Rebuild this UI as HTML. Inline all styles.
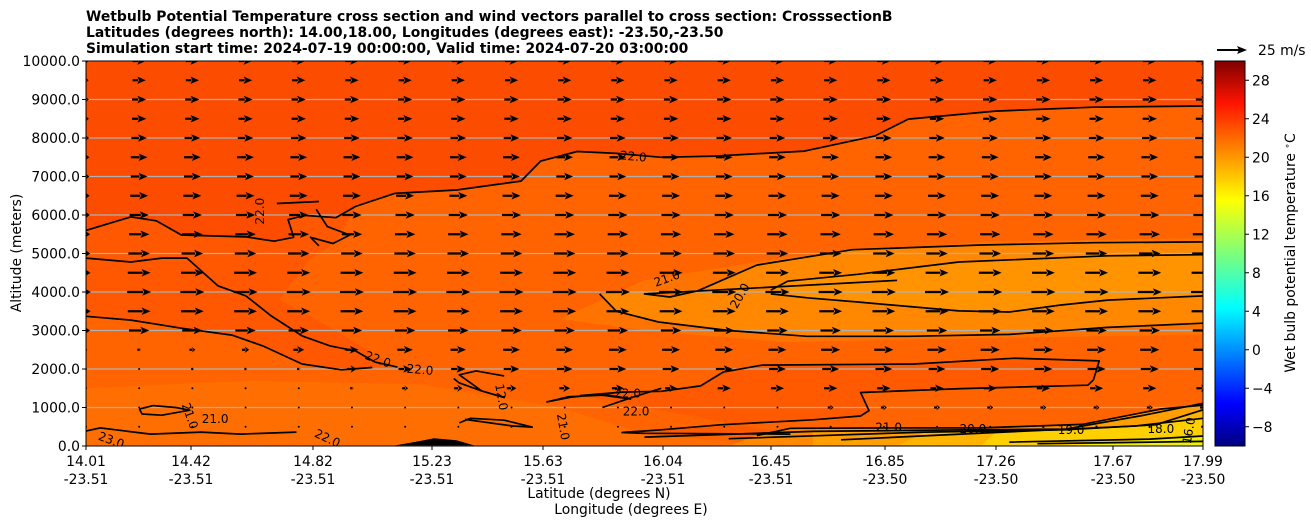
<!DOCTYPE html>
<html><head><meta charset="utf-8">
<style>
body{margin:0;background:#fff;}
svg{display:block;font-family:"DejaVu Sans","Liberation Sans",sans-serif;}
</style></head>
<body>
<svg id="chart" width="1311" height="526" viewBox="0 0 1311 526">
<defs>
<linearGradient id="jet" x1="0" y1="1" x2="0" y2="0">
<stop offset="0" stop-color="#00007f"/><stop offset="0.11" stop-color="#0000ff"/>
<stop offset="0.36" stop-color="#00ffff"/><stop offset="0.5" stop-color="#7dff7a"/>
<stop offset="0.64" stop-color="#ffff00"/><stop offset="0.89" stop-color="#ff1400"/>
<stop offset="1" stop-color="#7f0000"/>
</linearGradient>
<clipPath id="plotclip"><rect x="86" y="61" width="1117" height="385"/></clipPath>
</defs>
<g font-weight="bold" font-size="13.9">
<text x="86" y="21">Wetbulb Potential Temperature cross section and wind vectors parallel to cross section: CrosssectionB</text>
<text x="86" y="37">Latitudes (degrees north): 14.00,18.00, Longitudes (degrees east): -23.50,-23.50</text>
<text x="86" y="53">Simulation start time: 2024-07-19 00:00:00, Valid time: 2024-07-20 03:00:00</text>
</g>
<g id="plot" clip-path="url(#plotclip)"></g>
<rect x="86" y="61" width="1117" height="385" fill="none" stroke="#000" stroke-width="1"/>
<g id="axes"></g>
<rect x="1215" y="61" width="30" height="385" fill="url(#jet)" stroke="#000" stroke-width="1"/>
<g id="cbticks"></g>
<text transform="translate(1295,253) rotate(-90)" text-anchor="middle" font-size="13.9">Wet bulb potential temperature <tspan baseline-shift="super" font-size="9">∘</tspan>C</text>
<g>
<line x1="1217" y1="50" x2="1239" y2="50" stroke="#000" stroke-width="2"/>
<polygon points="1247,50 1237,46 1239,50 1237,54" fill="#000"/>
<text x="1258" y="55" font-size="13.9">25 m/s</text>
</g>
<text x="599" y="498" text-anchor="middle" font-size="13.9">Latitude (degrees N)</text>
<text x="631" y="514" text-anchor="middle" font-size="13.9">Longitude (degrees E)</text>
<text transform="translate(21,253) rotate(-90)" text-anchor="middle" font-size="13.9">Altitude (meters)</text>
</svg>
<script>
const latTicks=[14.01,14.42,14.82,15.23,15.63,16.04,16.45,16.85,17.26,17.67,17.99];
const lonTicks=["-23.51","-23.51","-23.51","-23.51","-23.51","-23.51","-23.51","-23.50","-23.50","-23.50","-23.50"];
const tickPx=[86,191,313,432,543,663,771,885,996,1113,1203];
const altTicks=[0,1000,2000,3000,4000,5000,6000,7000,8000,9000,10000];
const cbTicks=[-8,-4,0,4,8,12,16,20,24,28];
const windLevels=[500,1000,1500,2000,2500,3000,3500,4000,4500,5000,5500,6000,6500,7000,7500,8000,8500,9000,9500,10000];
const upperSpeed=[17,19,20,19,18,17,16,15,14,14,13,12,12,11,11];
const lowSpeed=[
[0,0,0,0,0,0,0,0,0,0,0,0,0,0,1,1,1,1,2,2,2,3],
[0,0,0,0,0,0,0,0,0,0,0,1,1,1,5,5,5,5,5,5,5,5],
[0,0,0,1,1,3,5,7,8,9,10,10,11,11,11,11,11,11,11,11,11,11],
[0,0,2,2,3,8,11,12,13,13,14,14,14,14,14,14,14,15,15,15,15,15],
[0,3,5,6,9,11,13,13,14,14,15,15,15,15,16,16,16,16,16,16,16,16]
];
const nCols=22;
const cTop=[[14.01,5600],[14.17,5950],[14.26,5850],[14.35,5480],[14.58,5430],[14.68,5320],[14.75,5420],[14.73,5880],[14.79,5990],[14.9,5930],[14.97,6220],[15.11,6560],[15.33,6650],[15.56,6880],[15.63,7400],[15.76,7650],[15.9,7600],[16.06,7500],[16.25,7530],[16.57,7660],[16.82,8050],[16.94,8490],[17.25,8700],[17.6,8800],[17.99,8830]];
const c22a=[[14.01,4880],[14.17,4780],[14.28,4880],[14.37,4880],[14.48,4160],[14.58,3900],[14.67,3380],[14.78,2860],[14.88,2600],[14.97,2470],[15.04,2180],[15.12,2050]];
const c22b=[[14.01,3370],[14.17,3270],[14.35,3060],[14.53,2880],[14.64,2600],[14.78,2130],[14.92,1980],[15.03,2040]];
const c22c=[[14.01,390],[14.06,470],[14.24,310],[14.42,360],[14.56,310],[14.76,360]];
const c21loop=[[14.2,960],[14.25,1050],[14.33,1000],[14.38,930],[14.28,800],[14.21,830],[14.2,960]];
const c21right=[[16.9,4300],[16.0,3950],[16.09,3870],[16.19,4030],[16.4,4700],[16.74,5100],[17.2,5220],[17.6,5280],[17.99,5300]];
const c21rb=[[15.84,3950],[15.9,3500],[16.05,3220],[16.3,3000],[16.58,2850],[16.94,2850],[17.3,2900],[17.65,3080],[17.99,3190]];
const c20=[[16.45,4050],[16.51,4280],[16.76,4460],[17.12,4780],[17.65,4940],[17.99,4970],[17.99,4970]];
const c20b=[[16.45,3950],[16.58,3850],[16.76,3740],[17.12,3510],[17.3,3480],[17.48,3660],[17.65,3790],[17.99,3900]];
const c22r=[[15.77,1310],[15.92,1400],[16.06,1420],[16.2,1560],[16.28,1920],[16.42,2100],[16.96,2130],[17.32,2280],[17.62,2210],[17.6,1720],[17.58,1580],[17.13,1490],[16.77,1390],[16.8,920],[16.77,780],[16.6,680],[16.27,550],[16.06,420],[15.92,350],[16.0,330],[16.52,310]];
const c21b=[[16.4,270],[16.52,460],[16.9,470],[17.2,470],[17.56,560],[17.84,960],[17.99,1060]];
const c20l=[[16.0,230],[16.6,380],[17.15,420],[17.5,440],[17.78,800],[17.99,1110]];
const c19=[[16.3,190],[17.0,360],[17.5,420],[17.82,550],[17.99,940]];
const c18=[[16.7,160],[17.25,350],[17.75,520],[17.99,720]];
const c17=[[17.3,100],[17.8,180],[17.99,260]];
const c16=[[17.4,60],[17.99,120]];
const cMid1=[[15.32,1750],[15.34,1640],[15.42,1430],[15.5,1260],[15.42,1430],[15.34,1850],[15.4,1950],[15.5,1820]];
const cMid2=[[15.34,600],[15.38,720],[15.5,670],[15.6,490],[15.53,520],[15.36,690]];
const cMid3=[[15.65,1140],[15.74,1270],[15.85,1350],[15.95,1220],[15.85,1320],[15.73,1280],[15.65,1140]];
const cMid4=[[15.85,1000],[15.95,1250],[16.06,1500]];
const cHi=[[14.69,6300],[14.84,6350]];
const cLobe=[[14.83,6150],[14.87,5700],[14.95,5480],[14.89,5260],[14.81,5420],[14.84,5200]];

const X=lat=>86+(lat-14.01)/(17.99-14.01)*1117;
const Y=alt=>446-alt*0.0385;
const CB=v=>446-(v+10)*385/40;
const colX=i=>86+i*1117/21;
const NS="http://www.w3.org/2000/svg";
const plot=document.getElementById('plot');
function mk(tag,attrs,parent){const e=document.createElementNS(NS,tag);for(const k in attrs)e.setAttribute(k,attrs[k]);parent.appendChild(e);return e;}
function pts(a){return a.map(p=>X(p[0]).toFixed(1)+','+Y(p[1]).toFixed(1)).join(' ');}
function poly(a,fill,name){const e=mk('polygon',{points:pts(a),fill:fill},plot);

}
let bg=mk('rect',{x:86,y:61,width:1117,height:385,fill:'#ff6400'},plot);


poly([[14.01,10000],...cTop,[17.99,10000]],'#fb4c00','fill-upper');
poly([[14.01,5600],...cTop.slice(1,11),[14.9,5300],[14.8,4800],[14.7,3800],[14.9,3000],[15.1,2100],...c22b.slice().reverse()],'#ff5800','fill-upper-left');
poly([[14.01,0],[14.01,1500],[14.6,1700],[15.2,1600],[15.7,1000],[16.0,300],[16.5,0]],'#ff6e00','fill-lower-left');
poly([[15.7,3300],[16.0,4300],[16.5,4900],[17.2,5300],[17.99,5400],[17.99,2900],[17.2,2800],[16.5,2700],[16.0,3000]],'#ff7400','fill-band-outer');
poly([...c21right,[17.99,3190],...c21rb.slice().reverse()],'#ff8800','fill-band-21');
poly([...c20,...c20b.slice().reverse()],'#ff9400','fill-band-20');
poly(c22r,'#ff5a00','fill-lower-right');
poly([[16.3,0],...c21b,[17.99,0]],'#ff8a00','fill-low-21');
poly([[16.6,0],...c20l.slice(1),[17.99,0]],'#ffa000','fill-low-20');
poly([[16.9,0],...c19.slice(1),[17.99,0]],'#ffb400','fill-low-19');
poly([[17.2,0],...c18.slice(1),[17.99,0]],'#ffd000','fill-low-18');
poly([[17.5,0],...c17.slice(1),[17.99,0]],'#f0f000','fill-low-17');
poly([[15.1,0],[15.2,130],[15.25,200],[15.33,150],[15.4,0]],'#000','terrain');
altTicks.forEach(a=>{const l=mk('line',{x1:86,x2:1203,y1:Y(a),y2:Y(a),stroke:'#b0b0b0','stroke-width':1.2},plot);

});
const contours=[cTop,c22a,c22b,c22c,c21loop,c21right,c21rb,c20,c20b,c22r,c21b,c20l,c19,c18,c17,c16,cMid1,cMid2,cMid3,cMid4,cHi,cLobe];
contours.forEach(c=>{const l=mk('polyline',{points:pts(c),fill:'none',stroke:'#000','stroke-width':1.7,'stroke-linejoin':'round'},plot);

});
const clabels=[["22.0",15.96,7520,5],["22.0",14.63,6100,-90],["21.0",16.08,4350,-20],["20.0",16.34,3900,-60],["22.0",15.05,2250,20],["22.0",15.2,1980,5],["22.0",15.94,1370,0],["22.0",15.97,900,0],["21.0",14.47,700,0],["21.0",14.38,780,70],["23.0",14.1,150,20],["22.0",14.87,200,25],["12.0",15.49,1270,80],["21.0",15.71,500,80],["21.0",16.87,480,0],["20.0",17.17,440,0],["19.0",17.52,420,0],["18.0",17.84,440,0],["16.0",17.94,400,-80]];
clabels.forEach(c=>{const t=mk('text',{x:X(c[1]),y:Y(c[2])+4,'font-size':12,'text-anchor':'middle',transform:`rotate(${c[3]} ${X(c[1])} ${Y(c[2])})`},plot);t.textContent=c[0];

});
function arrow(cx,cy,u){
 const L=u*30/25; const g=mk('g',{},plot);
 
 
 if(L<2){mk('circle',{cx:cx,cy:cy,r:1,fill:'#000'},g);return;}
 const x0=cx-L/2,x1=cx+L/2,hl=Math.min(9,L*0.65),hw=Math.min(3.8,L*0.3+1.2);
 mk('line',{x1:x0,y1:cy,x2:x1-hl+1,y2:cy,stroke:'#000','stroke-width':2.2},g);
 mk('polygon',{points:`${x1},${cy} ${x1-hl},${cy-hw} ${x1-hl+2},${cy} ${x1-hl},${cy+hw}`,fill:'#000'},g);
}
windLevels.forEach((a,li)=>{for(let i=0;i<nCols;i++){
 let u=li<lowSpeed.length?lowSpeed[li][i]:upperSpeed[li-lowSpeed.length];
 if(i===0&&li>=lowSpeed.length)u=u*0.4;
 arrow(colX(i),Y(a),u);}});
const ax=document.getElementById('axes');
altTicks.forEach(a=>{mk('line',{x1:82,x2:86,y1:Y(a),y2:Y(a),stroke:'#000'},ax);
const t=mk('text',{x:80,y:Y(a)+5,'text-anchor':'end','font-size':13.9},ax);t.textContent=a.toFixed(1);

});
latTicks.forEach((v,i)=>{const x=tickPx[i];mk('line',{x1:x,x2:x,y1:446,y2:450,stroke:'#000'},ax);
const t=mk('text',{x:x,y:466,'text-anchor':'middle','font-size':13.9},ax);t.textContent=v.toFixed(2);


const t2=mk('text',{x:x,y:484,'text-anchor':'middle','font-size':13.9},ax);t2.textContent=lonTicks[i];

});
const cb=document.getElementById('cbticks');
cbTicks.forEach(v=>{mk('line',{x1:1245,x2:1249,y1:CB(v),y2:CB(v),stroke:'#000'},cb);
const t=mk('text',{x:1252,y:CB(v)+5,'font-size':13.9},cb);t.textContent=v<0?'\u2212'+Math.abs(v):String(v);

});
</script>
</body></html>
